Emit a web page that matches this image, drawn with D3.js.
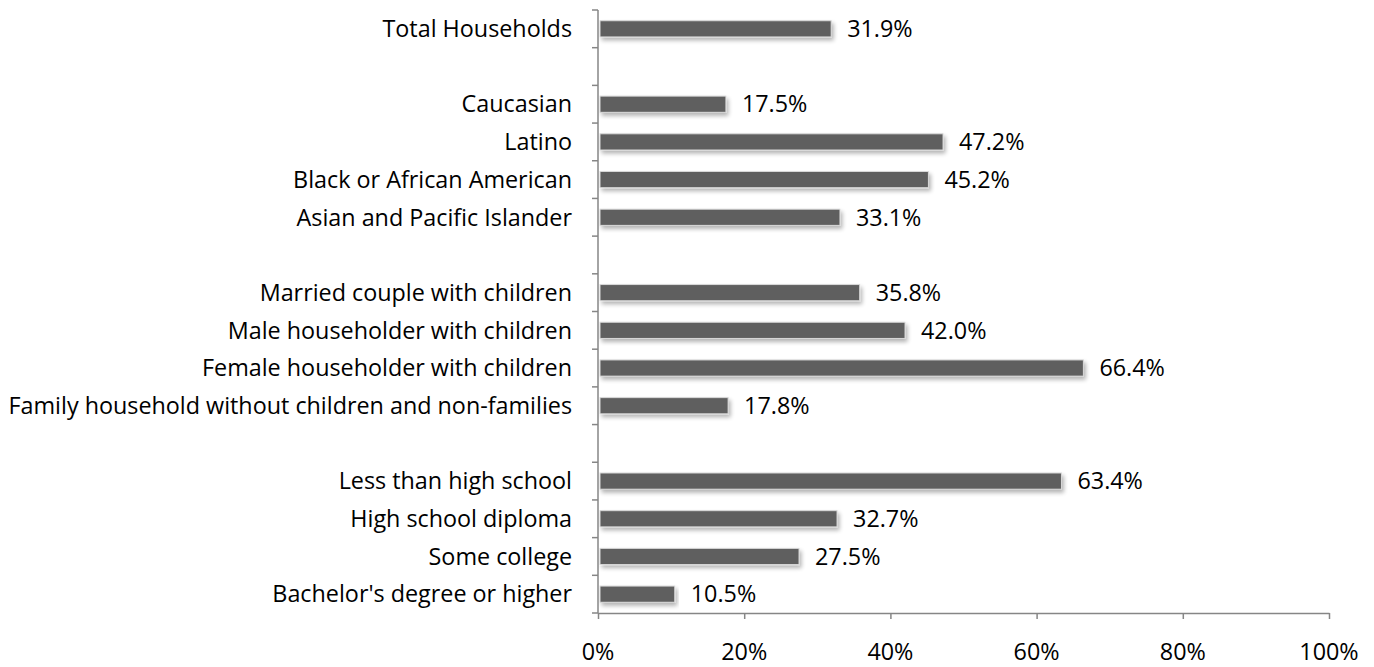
<!DOCTYPE html>
<html><head><meta charset="utf-8">
<script src="https://cdn.jsdelivr.net/npm/d3@7"></script>
<style>body{margin:0;background:#fff;} svg{display:block;}</style>
</head><body>
<svg id="c" width="1374" height="667"></svg>
<script>
const categories = ["Total Households","", "Caucasian","Latino","Black or African American","Asian and Pacific Islander","",
  "Married couple with children","Male householder with children","Female householder with children","Family household without children and non-families","",
  "Less than high school","High school diploma","Some college","Bachelor's degree or higher"];
const values = [31.9,null,17.5,47.2,45.2,33.1,null,35.8,42.0,66.4,17.8,null,63.4,32.7,27.5,10.5];
const xTicks = [0,20,40,60,80,100];

(function(){
const svg = d3.select("#c");
const font = "'Open Sans', sans-serif";
const fs = 23;
const pL = 598, pR = 1329, pT = 10, pB = 613;
const x = d3.scaleLinear().domain([0,100]).range([pL,pR]);
const keys = categories.map((d,i)=>i);
const y = d3.scaleBand().domain(keys).range([pT,pB]).paddingInner(0.57).paddingOuter(0.285);

const probe = svg.append("text").attr("font-family",font).attr("font-size",fs).text(categories[10]);
const sx = 564 / probe.node().getComputedTextLength();
probe.remove();

const defs = svg.append("defs");
const f = defs.append("filter").attr("id","sh").attr("x","-5%").attr("y","-50%").attr("width","110%").attr("height","250%");
f.append("feGaussianBlur").attr("in","SourceAlpha").attr("stdDeviation",2);
f.append("feOffset").attr("dx",2).attr("dy",3).attr("result","b");
f.append("feComponentTransfer").append("feFuncA").attr("type","linear").attr("slope",0.3);
const m = f.append("feMerge"); m.append("feMergeNode"); m.append("feMergeNode").attr("in","SourceGraphic");

const data = keys.filter(i=>values[i]!==null);
svg.append("g").selectAll("rect").data(data).join("rect")
  .attr("x", x(0)+2).attr("y", i=>y(i)).attr("width", i=>x(values[i])-x(0)-2).attr("height", y.bandwidth())
  .attr("fill","#5f5f5f").attr("stroke","#d9d9d9").attr("stroke-width",1).attr("filter","url(#sh)");

function txt(g, px, py, anchor, s){
  return g.append("text").attr("transform",`translate(${px},${py}) scale(${sx},1)`).attr("dy","0.36em")
    .attr("text-anchor",anchor).attr("font-family",font).attr("font-size",fs).attr("fill","#000").text(s);
}
const gl = svg.append("g");
data.forEach(i=>txt(gl, x(values[i])+16, y(i)+y.bandwidth()/2, "start", values[i].toFixed(1)+"%"));

const step = (pB-pT)/categories.length;
const gy = svg.append("g");
gy.append("line").attr("x1",pL).attr("x2",pL).attr("y1",pT).attr("y2",pB).attr("stroke","#868686").attr("stroke-width",1.5);
gy.selectAll("line.t").data(d3.range(categories.length+1)).join("line").attr("class","t")
  .attr("x1",pL-6).attr("x2",pL).attr("y1",i=>pT+i*step).attr("y2",i=>pT+i*step).attr("stroke","#868686").attr("stroke-width",1.5);
keys.forEach(i=>{ if(categories[i]) txt(gy, pL-26, y(i)+y.bandwidth()/2, "end", categories[i]); });

const gx = svg.append("g").attr("transform",`translate(0,${pB})`)
  .call(d3.axisBottom(x).tickValues(xTicks).tickFormat(d=>d+"%").tickSizeInner(6).tickSizeOuter(0));
gx.select(".domain").attr("stroke","#868686").attr("stroke-width",1.5);
gx.selectAll(".tick line").attr("stroke","#868686").attr("stroke-width",1.5);
gx.selectAll(".tick text").remove();
const gxt = svg.append("g");
xTicks.forEach(t=>txt(gxt, x(t), 652, "middle", t+"%"));
})();
</script>
</body></html>
